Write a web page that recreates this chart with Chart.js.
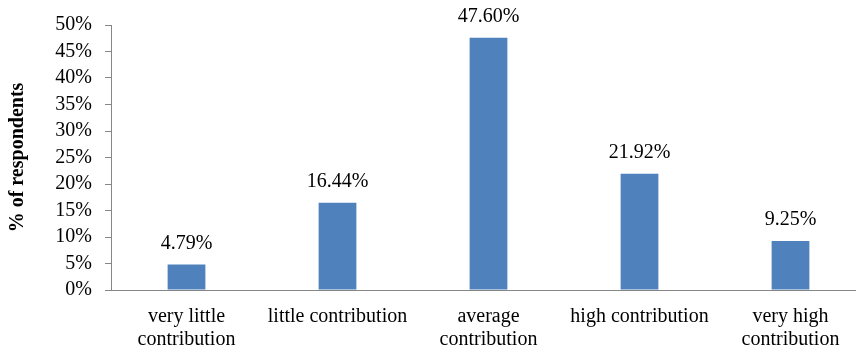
<!DOCTYPE html>
<html>
<head>
<meta charset="utf-8">
<script src="https://cdn.jsdelivr.net/npm/chart.js@4.4.1/dist/chart.umd.min.js"></script>
<style>
    html, body { margin: 0; padding: 0; background: #fff; overflow: hidden; }
    #wrap { width: 870px; height: 353px; }
</style>
</head>
<body>
<div id="wrap"><canvas id="contribChart"></canvas></div>
<script>
// Data
const categories = [
    ['very little', 'contribution'],
    'little contribution',
    ['average', 'contribution'],
    'high contribution',
    ['very high', 'contribution']
];
const respondents = [4.79, 16.44, 47.60, 21.92, 9.25];
const yTicks = [0, 5, 10, 15, 20, 25, 30, 35, 40, 45, 50];

const serif = '"Liberation Serif", "Times New Roman", serif';

// value labels above bars
const barLabels = {
    id: 'barLabels',
    afterDatasetsDraw(chart) {
        const ctx = chart.ctx;
        const meta = chart.getDatasetMeta(0);
        ctx.save();
        ctx.font = '20px ' + serif;
        ctx.fillStyle = '#000';
        ctx.textAlign = 'center';
        ctx.textBaseline = 'middle';
        meta.data.forEach((bar, i) => {
            ctx.fillText(respondents[i].toFixed(2) + '%', bar.x, bar.y - 21);
        });
        ctx.restore();
    }
};

const ctx = document.getElementById('contribChart').getContext('2d');
new Chart(ctx, {
    type: 'bar',
    data: {
        labels: categories,
        datasets: [{
            data: respondents,
            backgroundColor: '#4F81BD',
            barPercentage: 0.25,
            categoryPercentage: 1
        }]
    },
    options: {
        responsive: true,
        maintainAspectRatio: false,
        animation: false,
        layout: { padding: { top: 24, right: 4, left: 0, bottom: 0 } },
        plugins: {
            legend: { display: false },
            tooltip: { enabled: false }
        },
        scales: {
            x: {
                grid: { drawOnChartArea: false, drawTicks: false },
                border: { color: '#868686', width: 1 },
                ticks: {
                    color: '#000',
                    padding: 15,
                    maxRotation: 0,
                    autoSkip: false,
                    font: { family: serif, size: 20, lineHeight: 1.15 }
                },
                afterFit: scale => { scale.height = 63; }
            },
            y: {
                min: 0,
                max: 50,
                afterBuildTicks: scale => {
                    scale.ticks = yTicks.map(v => ({ value: v }));
                },
                grid: { drawOnChartArea: false, drawTicks: true, tickLength: 6, color: '#868686' },
                border: { color: '#868686', width: 1 },
                ticks: {
                    color: '#000',
                    padding: 13,
                    autoSkip: false,
                    callback: v => v + '%',
                    font: { family: serif, size: 20 }
                },
                title: {
                    display: true,
                    text: '% of respondents',
                    color: '#000',
                    padding: { top: 6, bottom: 0 },
                    font: { family: serif, size: 20, weight: 'bold' }
                },
                afterFit: scale => { scale.width = 111; }
            }
        }
    },
    plugins: [barLabels]
});
</script>
</body>
</html>
